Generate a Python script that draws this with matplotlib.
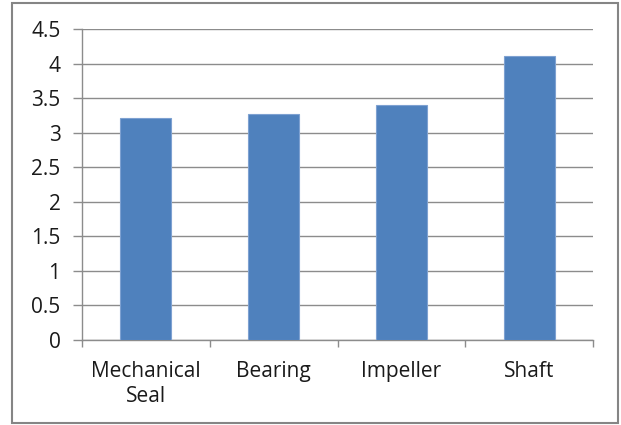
import matplotlib
matplotlib.use("Agg")
from matplotlib import pyplot as plt
from matplotlib.patches import Rectangle
import numpy as np

categories = ["Mechanical\nSeal", "Bearing", "Impeller", "Shaft"]
values = [3.21, 3.27, 3.40, 4.11]
y_ticks = [0, 0.5, 1, 1.5, 2, 2.5, 3, 3.5, 4, 4.5]
y_labels = ["0", "0.5", "1", "1.5", "2", "2.5", "3", "3.5", "4", "4.5"]

plt.rcParams["font.family"] = ["Open Sans", "DejaVu Sans"]

W, H = 621, 425
fig = plt.figure(figsize=(W / 100, H / 100), dpi=100)
ax = fig.add_axes([82 / W, 1 - 340 / H, 511 / W, 311 / H])

grid_color = "#8c8c8c"
x = np.arange(len(categories))
ax.bar(x, values, width=0.4, color="#4F81BD", edgecolor="#7EA1D1", linewidth=0.8, zorder=3)

ax.set_xlim(-0.5, len(categories) - 0.5)
ax.set_ylim(0, 4.5)
ax.set_yticks(y_ticks)
ax.set_yticklabels(y_labels, fontsize=15, color="#1a1a1a")
ax.set_xticks(x)
ax.set_xticklabels(categories, fontsize=15, color="#1a1a1a", linespacing=1.25)
ax.set_xticks(np.arange(-0.5, len(categories)), minor=True)

ax.tick_params(axis="x", which="major", length=0, pad=15)
ax.tick_params(axis="x", which="minor", length=5, color=grid_color, width=1)
ax.tick_params(axis="y", length=6.5, color=grid_color, width=1, pad=9)

ax.yaxis.grid(True, color=grid_color, linewidth=1, zorder=0)
ax.set_axisbelow(True)
for side in ("top", "right"):
    ax.spines[side].set_visible(False)
for side in ("left", "bottom"):
    ax.spines[side].set_color(grid_color)
    ax.spines[side].set_linewidth(1)

# outer chart frame
fig.patches.append(Rectangle((12 / W, 2 / H), 606 / W, 420 / H,
                             transform=fig.transFigure, fill=False,
                             edgecolor="#858585", linewidth=1.5))

fig.savefig("out.png", dpi=100)
plt.close(fig)
